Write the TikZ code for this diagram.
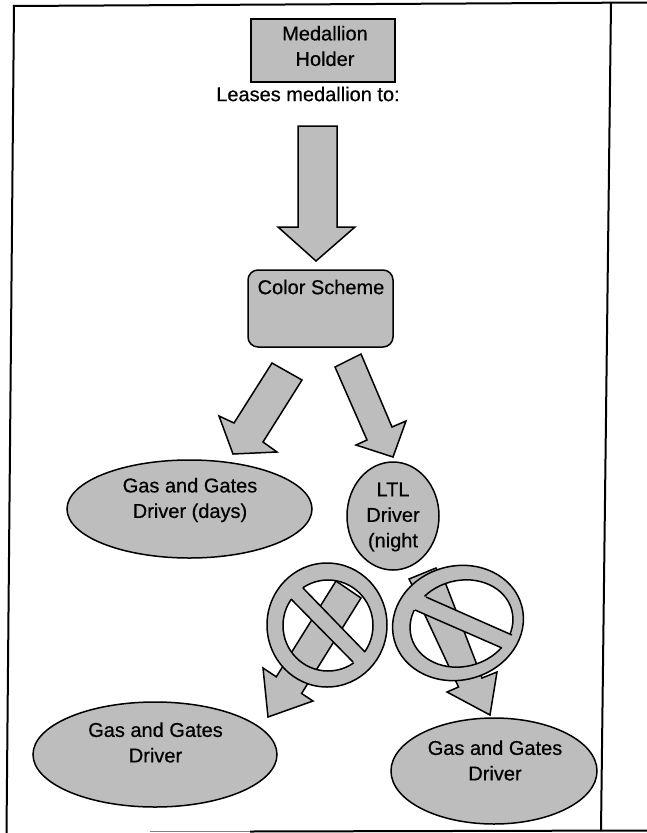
\documentclass[tikz,border=0pt]{standalone}
\usepackage{fontspec}
\setmainfont{Liberation Sans}
\newfontfamily\heavyface[FakeBold=0.5]{Liberation Sans}
\usetikzlibrary{shapes.geometric}
\definecolor{stip}{gray}{0.74}
\tikzset{
  outl/.style={draw=black,line width=1.5pt,line join=miter},
  solid shape/.style={outl,fill=stip},
  lab/.style={font=\heavyface\fontsize{20}{25.5}\selectfont,text=black,inner sep=0pt,anchor=center,align=center},
  framel/.style={draw=black,line width=2pt},
}
\begin{document}
\begin{tikzpicture}[x=1pt,y=-1pt]
\useasboundingbox (0,0) rectangle (647,833);
% page frame
\draw[framel] (13,6) -- (647,2.5);
\draw[framel] (14,5) -- (6.5,833);
\draw[framel] (611,3) -- (601,831);
\draw[draw=gray,line width=1.2pt] (150,831.5) -- (250,831.5);
\draw[framel] (250,831.5) -- (647,830.5);
% top box
\node[solid shape,rectangle,minimum width=144pt,minimum height=63pt,inner sep=0pt] (holder) at (323,50.5) {};
\node[lab] (holdertxt) at (325,46) {Medallion\\Holder};
\node[lab] (lease) at (308,94) {Leases medallion to:};
% big down arrow
\draw[solid shape] (298,126) -- (337,126) -- (337,227) -- (355,227) -- (316,261) -- (278,227) -- (298,227) -- cycle;
% colour scheme
\node[solid shape,rectangle,rounded corners=10pt,minimum width=145pt,minimum height=77pt,inner sep=0pt] (scheme) at (320.5,308.5) {};
\node[lab] (schemetxt) at (321,287) {Color Scheme};
% two arrows
\draw[solid shape] (272,363) -- (302,380) -- (263,442) -- (277,452) -- (233,454) -- (219,416) -- (234,423) -- cycle;
\draw[solid shape] (335,367) -- (361,354) -- (392,427) -- (406,421) -- (393,457) -- (356,445) -- (367,440) -- cycle;
% drivers
\node[solid shape,ellipse,minimum width=245pt,minimum height=98pt,inner sep=0pt] (gasdays) at (189.5,509) {};
\node[lab] (gasdaystxt) at (190,500) {Gas and Gates\\Driver (days)};
\node[solid shape,ellipse,minimum width=92pt,minimum height=108pt,inner sep=0pt] (ltl) at (393,516) {};
\node[lab] (ltltxt) at (393,517) {LTL\\Driver\\(night};
\node[solid shape,ellipse,minimum width=244pt,minimum height=105pt,inner sep=0pt] (gasl) at (155,754.5) {};
\node[lab] (gasltxt) at (155.5,742.5) {Gas and Gates\\Driver};
\node[solid shape,ellipse,minimum width=206pt,minimum height=106pt,inner sep=0pt] (gasr) at (494,771) {};
\node[lab] (gasrtxt) at (495,760.5) {Gas and Gates\\Driver};
% left prohibited arrow
\draw[solid shape] (336,581) -- (361,598) -- (301.6,693.5) -- (313,701) -- (268,717) -- (263,668) -- (276.3,676.8) -- cycle;
\path[fill=stip,even odd rule] (327,625) ellipse [x radius=60,y radius=62] (328,625.5) ellipse [x radius=45,y radius=45.5];
\draw[outl] (327,625) ellipse [x radius=60,y radius=62];
\draw[outl] (328,625.5) ellipse [x radius=45,y radius=45.5];
\fill[stip] (287,595) -- (299,584) -- (369,656) -- (357,666) -- cycle;
\draw[outl] (291,599) -- (353,662);
\draw[outl] (303,588) -- (365,652);
% right prohibited arrow
\draw[solid shape] (409,579) -- (436,568) -- (438,572) -- (412,585) -- cycle;
\draw[solid shape] (445,582) -- (482,678) -- (497,672) -- (490,715) -- (447,692) -- (458.5,687) -- (416,596) -- cycle;
\begin{scope}[shift={(458,623)},rotate=15]
  \path[fill=stip] (0,0) ellipse [x radius=66,y radius=57];
  \draw[outl] (0,0) ellipse [x radius=66,y radius=57];
\end{scope}
\begin{scope}[shift={(461.5,623.5)},rotate=15]
  \path[fill=white] (0,0) ellipse [x radius=52,y radius=43];
\end{scope}
\begin{scope}
  \clip[shift={(461.5,623.5)},rotate=15] (0,0) ellipse [x radius=52,y radius=43];
  \draw[solid shape] (445,582) -- (482,678) -- (458.5,687) -- (416,596) -- cycle;
\end{scope}
\begin{scope}[shift={(461.5,623.5)},rotate=15]
  \draw[outl] (0,0) ellipse [x radius=52,y radius=43];
\end{scope}
\fill[stip] (421,595) -- (517,637) -- (507,650) -- (410,608) -- cycle;
\draw[outl] (426,597) -- (512,635);
\draw[outl] (415,610) -- (502,648);
\end{tikzpicture}
\end{document}
